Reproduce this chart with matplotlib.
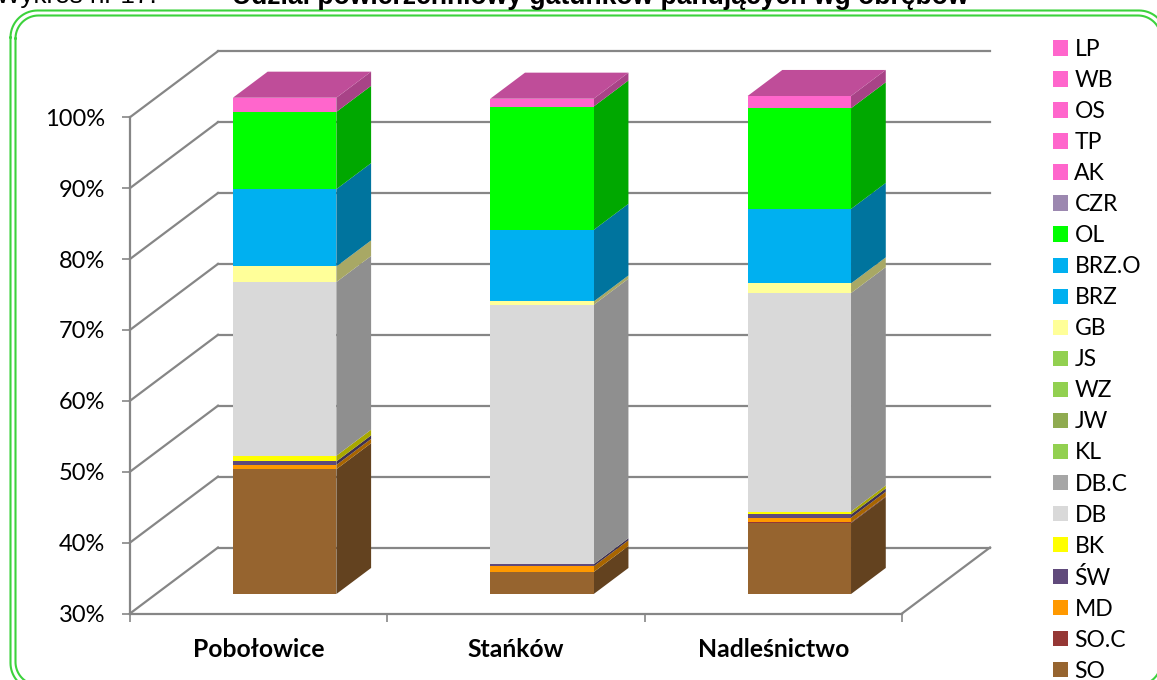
#Udzial powierzchniowy gatunkow panujacych - slupki 3D skumulowane

import matplotlib
matplotlib.use('Agg')
import matplotlib.pyplot as plt
from matplotlib.patches import Patch
from matplotlib.colors import to_rgb
import numpy as np

obreby = ['Pobołowice', 'Stańków', 'Nadleśnictwo']
procenty = [30, 40, 50, 60, 70, 80, 90, 100]

# od dolu slupka do gory
gatunki = ['SO', 'SO.C', 'MD', 'ŚW', 'BK', 'DB', 'DB.C', 'KL', 'JW', 'WZ', 'JS',
           'GB', 'BRZ', 'BRZ.O', 'OL', 'CZR', 'AK', 'TP', 'OS', 'WB', 'LP']
kolory = ['#96642F', '#953735', '#FF9900', '#604A7B', '#FFFF00', '#D9D9D9', '#A6A6A6',
          '#92D050', '#8FAB50', '#92D050', '#92D050', '#FFFF99', '#00B0F0', '#00B0F0',
          '#00FF00', '#9C88B0', '#FF66CC', '#FF66CC', '#FF66CC', '#FF66CC', '#FF66CC']

SO = [47.6, 33.1, 40.0]
SO_C = [0, 0, 0.1]
MD = [0.6, 0.8, 0.66]
SW = [0.5, 0.3, 0.46]
BK = [0.8, 0, 0.42]
DB = [24.5, 36.6, 30.8]
GB = [2.2, 0.46, 1.37]
BRZ = [10.9, 10.1, 10.5]
OL = [10.9, 17.4, 14.2]
AK = [2.0, 1.1, 1.73]
zero = [0, 0, 0]
serie = [SO, SO_C, MD, SW, BK, DB, zero, zero, zero, zero, zero,
         GB, BRZ, zero, OL, zero, AK, zero, zero, zero, zero]

W, H = 1157, 680
szary = '#868686'
plt.rcParams['font.family'] = ['Lato', 'DejaVu Sans']

fig = plt.figure(figsize=(W / 100, H / 100), dpi=100)

# ramka i tytul w pikselach
tlo = fig.add_axes([0, 0, 1, 1])
tlo.set_xlim(0, W)
tlo.set_ylim(H, 0)
tlo.axis('off')


def ramka(x0, y0, x1, y1, r):
    t = np.linspace(0, np.pi / 2, 20)
    xs = np.concatenate([x0 + r - r * np.cos(t), x1 - r + r * np.sin(t),
                         x1 - r + r * np.cos(t), x0 + r - r * np.sin(t), [x0]])
    ys = np.concatenate([y0 + r - r * np.sin(t), y0 + r - r * np.cos(t),
                         y1 - r + r * np.sin(t), y1 - r + r * np.cos(t), [y0 + r]])
    tlo.plot(xs, ys, color='#3CD23C', lw=1.5)


ramka(10.5, 10.5, 1166, 690, 27)
ramka(15.5, 15.5, 1161, 685, 23)
tlo.text(157, 3.5, 'Wykres nr 17:', ha='right', va='baseline', fontsize=18.8,
         family=['Liberation Sans'], color='black')
tlo.text(600, 3.5, 'Udział powierzchniowy gatunków panujących wg obrębów', ha='center',
         va='baseline', fontsize=19.1, fontweight='bold', family=['Liberation Sans'], color='black')

# glowne osie: przod podlogi 130..902, 30%..100%
ax = fig.add_axes([130 / W, 1 - 613.5 / H, 772 / W, 496.3 / H])
ax.patch.set_alpha(0)
ax.set_xlim(0, 3)
ax.set_ylim(30, 100)
glebx = 88 / (772 / 3)
gleby = 66 / (496.3 / 70)


def rzut(x, y, d):
    return x + d * glebx, y + d * gleby


def sciana(punkty, kolor, z):
    xs = [rzut(*p)[0] for p in punkty]
    ys = [rzut(*p)[1] for p in punkty]
    ax.fill(xs, ys, color=kolor, lw=0, clip_on=False, zorder=z)


def ciemny(kolor, f):
    return tuple(c * f for c in to_rgb(kolor))


# siatka na tylnej scianie i skosy
for p in procenty:
    xa, ya = rzut(0, p, 0)
    xb, yb = rzut(0, p, 1)
    xc, yc = rzut(3, p, 1)
    ax.plot([xb, xc], [yb, yc], color=szary, lw=1.6, clip_on=False, zorder=1)
    ax.plot([xa, xb], [ya, yb], color=szary, lw=1.6, clip_on=False, zorder=1)
xc, yc = rzut(3, 30, 1)
ax.plot([3, xc], [30, yc], color=szary, lw=1.6, clip_on=False, zorder=1)

# slupki
szer = 0.402
d0, d1 = 0.295, 0.69
for i in range(len(obreby)):
    x0 = i + 0.5 - szer / 2
    x1 = x0 + szer
    suma = 0
    ostatni = kolory[0]
    for wart, kolor in zip(serie, kolory):
        dol = max(suma, 30)
        suma += wart[i]
        gora = suma
        if wart[i] == 0 or gora <= 30:
            continue
        sciana([(x0, dol, d0), (x1, dol, d0), (x1, gora, d0), (x0, gora, d0)], kolor, 4)
        sciana([(x1, dol, d0), (x1, gora, d0), (x1, gora, d1), (x1, dol, d1)], ciemny(kolor, 0.66), 3)
        ostatni = kolor
    sciana([(x0, suma, d0), (x1, suma, d0), (x1, suma, d1), (x0, suma, d1)], ciemny(ostatni, 0.75), 3)

ax.set_yticks(procenty)
ax.set_yticklabels(['%d%%' % p for p in procenty], fontsize=17)
ax.set_xticks([0, 1, 2, 3])
ax.set_xticklabels([])
ax.set_xticks([0.5, 1.5, 2.5], minor=True)
ax.set_xticklabels(obreby, minor=True, fontsize=17.8, fontweight='bold')
ax.tick_params(axis='y', length=5.8, width=1.2, color=szary, pad=12)
ax.tick_params(axis='x', which='major', length=5.5, width=1.2, color=szary)
ax.tick_params(axis='x', which='minor', length=0, pad=17.5)
for s in ['top', 'right']:
    ax.spines[s].set_visible(False)
for s in ['left', 'bottom']:
    ax.spines[s].set_color(szary)
    ax.spines[s].set_linewidth(1.6)

# legenda, LP na gorze
uchwyty = [Patch(color=k, lw=0) for k in kolory][::-1]
fs = 16.5
fig.legend(uchwyty, gatunki[::-1], loc='upper left', bbox_to_anchor=(1053 / W, 1 - 39 / H),
           borderaxespad=0, borderpad=0, frameon=False, fontsize=fs,
           handlelength=15 * 0.72 / fs, handleheight=15 * 0.72 / fs, handletextpad=0.28,
           labelspacing=0.438)

fig.savefig('out.png', dpi=100)
